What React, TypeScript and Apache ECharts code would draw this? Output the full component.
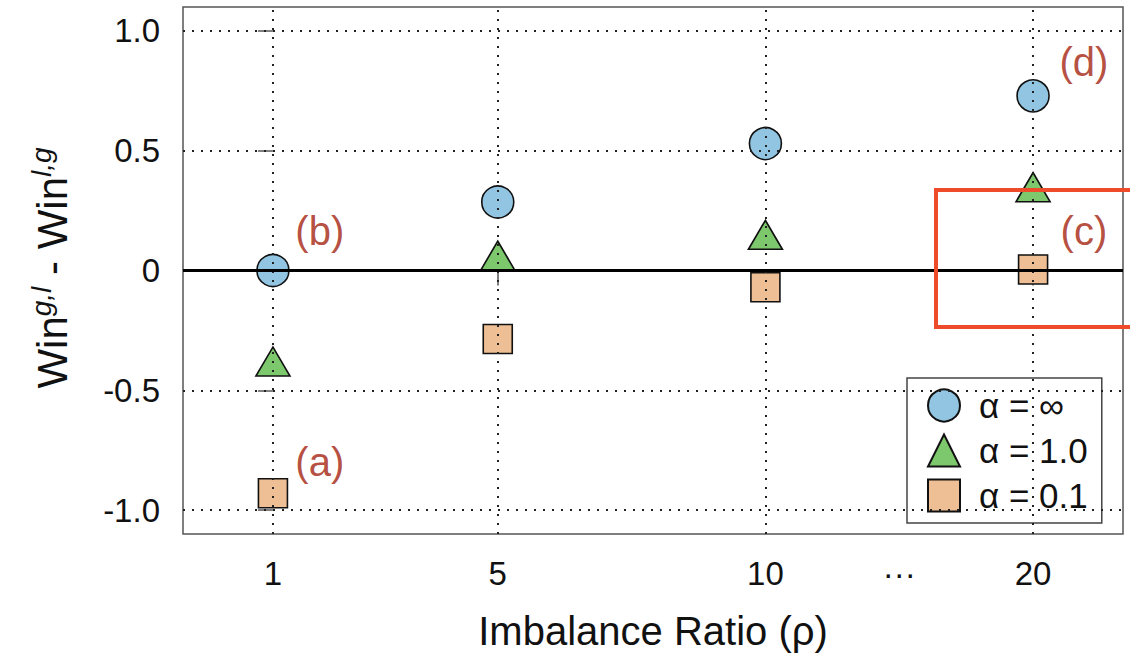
import React, { useEffect, useRef } from "react";
import * as echarts from "echarts";

// Categories on the x axis (imbalance ratio) and their slot on the broken axis
const categories = ["1", "5", "10", "20"];
const slots = [0, 0.84, 1.84, 2.84];
const gapLabel = "···";
const gapSlot = 2.34;

// Y tick labels
const yTicks = [-1, -0.5, 0, 0.5, 1];

// Series values (Win^{g,l} - Win^{l,g})
const alphaInf = [0.0, 0.286, 0.53, 0.729];
const alpha10 = [-0.38, 0.062, 0.149, 0.348];
const alpha01 = [-0.93, -0.286, -0.07, 0.004];

// Annotations: [slot, value, text]
const annotations: [number, number, string][] = [
  [0.175, -0.8, "(a)"],
  [0.175, 0.165, "(b)"],
  [3.03, 0.165, "(c)"],
  [3.03, 0.87, "(d)"],
];

const FONT = "Liberation Sans, Arial, Helvetica, sans-serif";

export default function App() {
  const ref = useRef<HTMLDivElement>(null);
  useEffect(() => {
    if (!ref.current) return;
    const chart = echarts.init(ref.current, null, { renderer: "svg" });
    const toPts = (vals: number[]) => vals.map((v, i) => [slots[i], v]);
    const dotted = { type: [2, 7] as any, width: 2, color: "#222" };
    const gridLines = [
      ...yTicks.filter((v) => v !== 0).map((v) => ({ yAxis: v, lineStyle: dotted })),
      ...slots.map((s) => ({ xAxis: s, lineStyle: dotted })),
      { yAxis: 0, lineStyle: { type: "solid", width: 3, color: "#000" } },
    ];
    const markerStyle = (color: string) => ({
      color,
      borderColor: "#111",
      borderWidth: 1.6,
      opacity: 1,
    });
    chart.setOption({
      animation: false,
      backgroundColor: "#fff",
      grid: {
        left: 183,
        right: 7,
        top: 7,
        bottom: 119,
        show: true,
        borderColor: "#555",
        borderWidth: 1.5,
        backgroundColor: "#fff",
      },
      xAxis: {
        type: "value",
        min: -0.336,
        max: 3.176,
        axisLine: { show: false },
        splitLine: { show: false },
        axisTick: {
          show: true,
          length: 15,
          customValues: slots,
          lineStyle: { color: "#555", width: 1.5 },
        },
        axisLabel: {
          customValues: [...slots, gapSlot],
          fontSize: 33,
          fontFamily: FONT,
          color: "#111",
          margin: 23,
          formatter: (v: number) => {
            if (Math.abs(v - gapSlot) < 1e-6) return gapLabel;
            const i = slots.findIndex((s) => Math.abs(s - v) < 1e-6);
            return i >= 0 ? categories[i] : "";
          },
        },
        name: "Imbalance Ratio (ρ)",
        nameLocation: "middle",
        nameGap: 77,
        nameTextStyle: { fontSize: 40, fontFamily: FONT, color: "#111" },
      },
      yAxis: {
        type: "value",
        min: -1.1,
        max: 1.1,
        axisLine: { show: false },
        splitLine: { show: false },
        axisTick: {
          show: true,
          length: 15,
          customValues: yTicks,
          lineStyle: { color: "#555", width: 1.5 },
        },
        axisLabel: {
          customValues: yTicks,
          fontSize: 33,
          fontFamily: FONT,
          color: "#111",
          margin: 23,
          formatter: (v: number) => (v === 0 ? "0" : v.toFixed(1)),
        },
      },
      legend: {
        data: ["α = ∞", "α = 1.0", "α = 0.1"],
        orient: "vertical",
        left: 907,
        top: 378,
        width: 200,
        padding: [10, 14, 10, 20],
        itemGap: 10,
        itemWidth: 32,
        itemHeight: 32,
        backgroundColor: "#fff",
        borderColor: "#444",
        borderWidth: 1.5,
        borderRadius: 0,
        textStyle: {
          fontSize: 35,
          fontFamily: FONT,
          color: "#111",
          padding: [0, 0, 0, 14],
          lineHeight: 34,
        },
      },
      graphic: [
        {
          type: "text",
          x: 52,
          y: 268,
          rotation: Math.PI / 2,
          style: {
            text: "{n|Win}{s|g,l}{n| - Win}{s|l,g}",
            align: "center",
            verticalAlign: "middle",
            fill: "#111",
            rich: {
              n: { fontSize: 42, fontFamily: FONT, fill: "#111" },
              s: {
                fontSize: 28,
                fontFamily: FONT,
                fontStyle: "italic",
                fill: "#111",
                padding: [0, 0, 22, 0],
              },
            },
          },
          z: 100,
        },
        {
          type: "rect",
          shape: { x: 936, y: 190, width: 210, height: 137 },
          style: { fill: "none", stroke: "#EE4B2B", lineWidth: 4 },
          z: 100,
        },
      ],
      series: [
        {
          type: "scatter",
          name: "annotations",
          z: 1,
          symbolSize: 0,
          data: annotations.map((a) => [a[0], a[1], a[2]]),
          label: {
            show: true,
            position: "inside",
            formatter: (p: any) => p.data[2],
            fontSize: 40,
            fontFamily: FONT,
            color: "#A3220F",
          },
          markLine: {
            silent: true,
            symbol: "none",
            label: { show: false },
            data: gridLines,
          },
        },
        {
          type: "scatter",
          name: "α = ∞",
          z: 3,
          symbol: "circle",
          symbolSize: 32,
          data: toPts(alphaInf),
          itemStyle: markerStyle("#92C5E1"),
        },
        {
          type: "scatter",
          name: "α = 1.0",
          z: 3,
          symbol: "triangle",
          symbolSize: [34, 29],
          data: toPts(alpha10),
          itemStyle: markerStyle("#7DC86D"),
        },
        {
          type: "scatter",
          name: "α = 0.1",
          z: 3,
          symbol: "rect",
          symbolSize: 29,
          data: toPts(alpha01),
          itemStyle: markerStyle("#EEBF94"),
        },
      ],
    });
    return () => chart.dispose();
  }, []);
  return (
    <div
      ref={ref}
      style={{ position: "fixed", left: 0, top: 0, width: 1130, height: 656 }}
    />
  );
}
